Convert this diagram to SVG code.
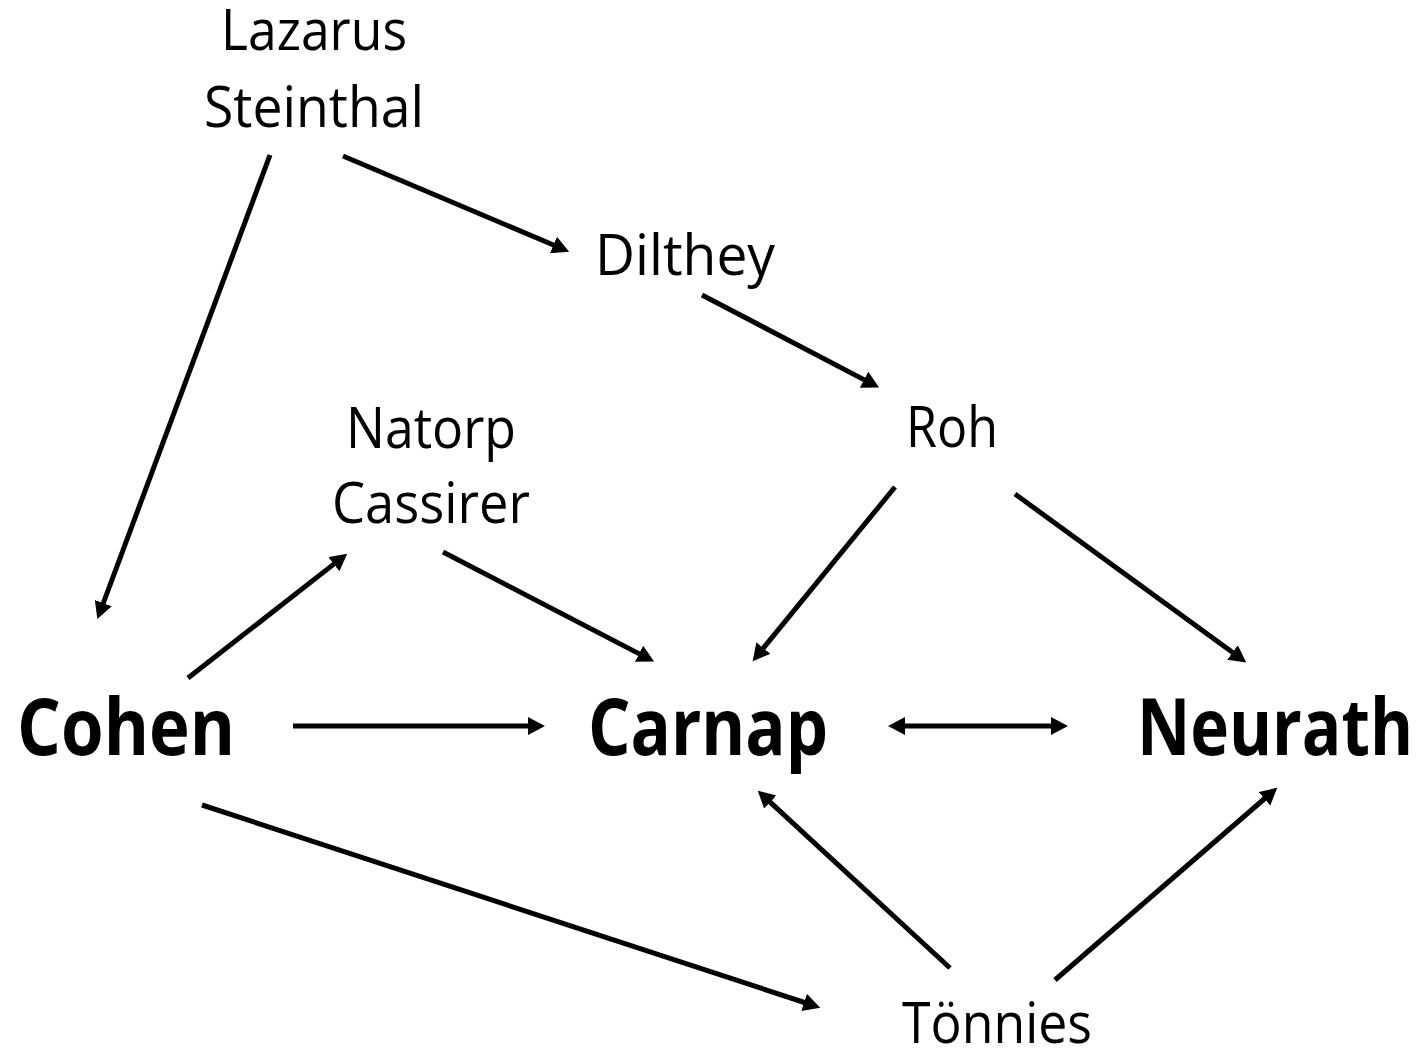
<svg xmlns="http://www.w3.org/2000/svg" width="1427" height="1054" viewBox="0 0 1427 1054">
<defs>
<marker id="ah" markerUnits="userSpaceOnUse" markerWidth="20" markerHeight="20" refX="2" refY="9" orient="auto-start-reverse">
<path d="M0,0 L17,9 L0,18 z" fill="#000"/>
</marker>
<style>
.s{font-family:"Open Sans","Liberation Sans",sans-serif;font-size:56px;fill:#000;text-anchor:middle}
.b{font-family:"Open Sans","Liberation Sans",sans-serif;font-size:78px;font-weight:bold;fill:#000;text-anchor:middle}
.e{stroke:#000;stroke-width:5;fill:none;marker-end:url(#ah)}
</style>
</defs>
<rect width="1427" height="1054" fill="#fff"/>
<g id="connectors">
<line class="e" x1="270" y1="155" x2="102.6" y2="605"/>
<line class="e" x1="343" y1="156" x2="555.3" y2="245.8"/>
<line class="e" x1="702" y1="295" x2="865.8" y2="380.6"/>
<line class="e" x1="188" y1="678" x2="335.4" y2="562.9"/>
<line class="e" x1="443" y1="552" x2="640.8" y2="654.6"/>
<line class="e" x1="895" y1="487" x2="762.1" y2="649.6"/>
<line class="e" x1="1015" y1="494" x2="1234.1" y2="653.6"/>
<line class="e" x1="293" y1="726" x2="530" y2="726"/>
<line class="e" x1="903" y1="726" x2="1053" y2="726" style="marker-start:url(#ah)"/>
<line class="e" x1="202" y1="805" x2="806" y2="1003"/>
<line class="e" x1="950" y1="968" x2="768.8" y2="800.8"/>
<line class="e" x1="1055" y1="980" x2="1265.9" y2="797.5"/>
</g>
<g id="lazarus-steinthal">
<text class="s" x="314" y="50" textLength="186" lengthAdjust="spacingAndGlyphs">Lazarus</text>
<text class="s" x="314" y="127" textLength="220" lengthAdjust="spacingAndGlyphs">Steinthal</text>
</g>
<g id="dilthey"><text class="s" x="685" y="275" textLength="180" lengthAdjust="spacingAndGlyphs">Dilthey</text></g>
<g id="natorp-cassirer">
<text class="s" x="431" y="448" textLength="170" lengthAdjust="spacingAndGlyphs">Natorp</text>
<text class="s" x="431" y="523" textLength="198" lengthAdjust="spacingAndGlyphs">Cassirer</text>
</g>
<g id="roh"><text class="s" x="952" y="447" textLength="92" lengthAdjust="spacingAndGlyphs">Roh</text></g>
<g id="cohen"><text class="b" x="126" y="755" textLength="218" lengthAdjust="spacingAndGlyphs">Cohen</text></g>
<g id="carnap"><text class="b" x="708" y="755" textLength="240" lengthAdjust="spacingAndGlyphs">Carnap</text></g>
<g id="neurath"><text class="b" x="1275" y="755" textLength="276" lengthAdjust="spacingAndGlyphs">Neurath</text></g>
<g id="tonnies"><text class="s" x="997" y="1043" textLength="190" lengthAdjust="spacingAndGlyphs">Tönnies</text></g>
</svg>
